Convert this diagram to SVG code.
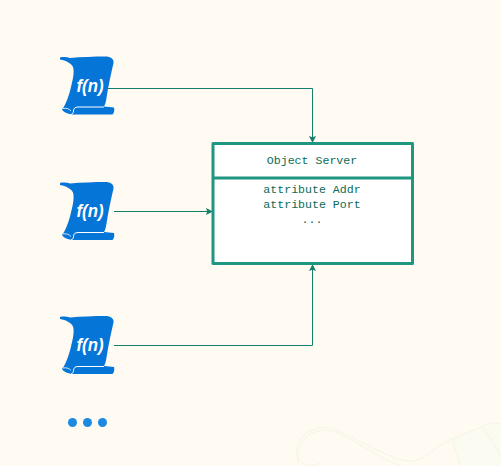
<svg xmlns="http://www.w3.org/2000/svg" width="501" height="466" viewBox="0 0 501 466">
<style>
.box{fill:#fff;stroke:#1f9680;stroke-width:3;stroke-linejoin:round}
.c{fill:none;stroke:#14806c;stroke-width:1}
.t{font-family:"Liberation Mono","DejaVu Sans Mono",monospace;font-size:11.6px;fill:#0b6b58;text-anchor:middle}
.f{font-family:"Liberation Sans",Arial,sans-serif;font-size:18px;font-weight:bold;font-style:italic;fill:#fff}
.d{fill:#1b8ae0}
.deco{fill:#fcfbf2;stroke:none}
.deco2{fill:none;stroke:#f5f4e8;stroke-width:1}
</style>
<defs>
<marker id="a" markerWidth="7" markerHeight="7" refX="6.500" refY="3.500" orient="auto" markerUnits="userSpaceOnUse"><path d="M0 0L7 3.500L0 7L1.200 3.500Z" fill="#14806c"/></marker>
<g id="scroll">
<path d="M60 58C60 57 61 57 63 57C66 57 68 57 70 58C81 57 94 56.500 105 56.500C111 56.500 114 59 113.500 63C111 74 108 87 106.500 98C106 101 105.500 104 104 106.500L114 107.500C114.800 110 114 113 112.500 114.500L75 114.500C69 114.500 64 113 62 109.500C62.500 108.500 63 108 63.500 107.500C66 103 69 96 71 87C73 79 74.500 72 73 67C71 63 66 60.500 60 59.500Z" fill="#0675d8"/>
<path d="M104 107L78 107C75 107 73.500 108.500 73.500 111C73.500 113 72.500 114 71 114.500" fill="none" stroke="#fff" stroke-width="1"/>
<path d="M63 108.500C66 108 69 108.500 71 111" fill="none" stroke="#fff" stroke-width=".8"/>
</g>
</defs>
<rect width="501" height="466" fill="#fffbf3"/>
<g id="decoration">
<path class="deco" d="M452 439C465 433 480 425 493 423L501 424L501 466L460 466Z"/>
<path class="deco2" d="M320 463C312 467 300 466 297 455C295 441 305 428 327 427C350 433 385 458 407 461C425 462 432 448 452 439C465 434 470 431 475 430C482 427 488 423 493 423L501 424"/>
<path class="deco2" d="M298 463C296 445 306 431 325 430C337 431 347 437 360 445C372 452 380 456 387 460L400 466"/>
<path class="deco2" d="M452 439L460 466M483 427C490 438 497 449 501 457"/>
</g>
<g id="connectors">
<path class="c" marker-end="url(#a)" d="M108 88.500H312.500V142.500"/>
<path class="c" marker-end="url(#a)" d="M114 211.500H212.500"/>
<path class="c" marker-end="url(#a)" d="M114 345.500H312.500V264.500"/>
</g>
<g id="fn1">
<use href="#scroll"/>
<text class="f" x="76.500" y="91.500" textLength="27" lengthAdjust="spacingAndGlyphs">f(n)</text>
</g>
<g id="fn2">
<use href="#scroll" y="125.500"/>
<text class="f" x="76.500" y="217" textLength="27" lengthAdjust="spacingAndGlyphs">f(n)</text>
</g>
<g id="fn3">
<use href="#scroll" y="259.500"/>
<text class="f" x="76.500" y="351" textLength="27" lengthAdjust="spacingAndGlyphs">f(n)</text>
</g>
<g id="more">
<circle class="d" cx="72.500" cy="422.500" r="4.500"/>
<circle class="d" cx="87.500" cy="422.500" r="4.500"/>
<circle class="d" cx="102.500" cy="422.500" r="4.500"/>
</g>
<g id="server">
<rect class="box" x="213" y="143.500" width="199.500" height="120"/>
<path d="M213 178H412.500" stroke="#1f9680" stroke-width="3"/>
<text class="t" x="312" y="163.500">Object Server</text>
<text class="t" x="312" y="193">attribute Addr</text>
<text class="t" x="312" y="208">attribute Port</text>
<text class="t" x="312" y="223">...</text>
</g>
</svg>
